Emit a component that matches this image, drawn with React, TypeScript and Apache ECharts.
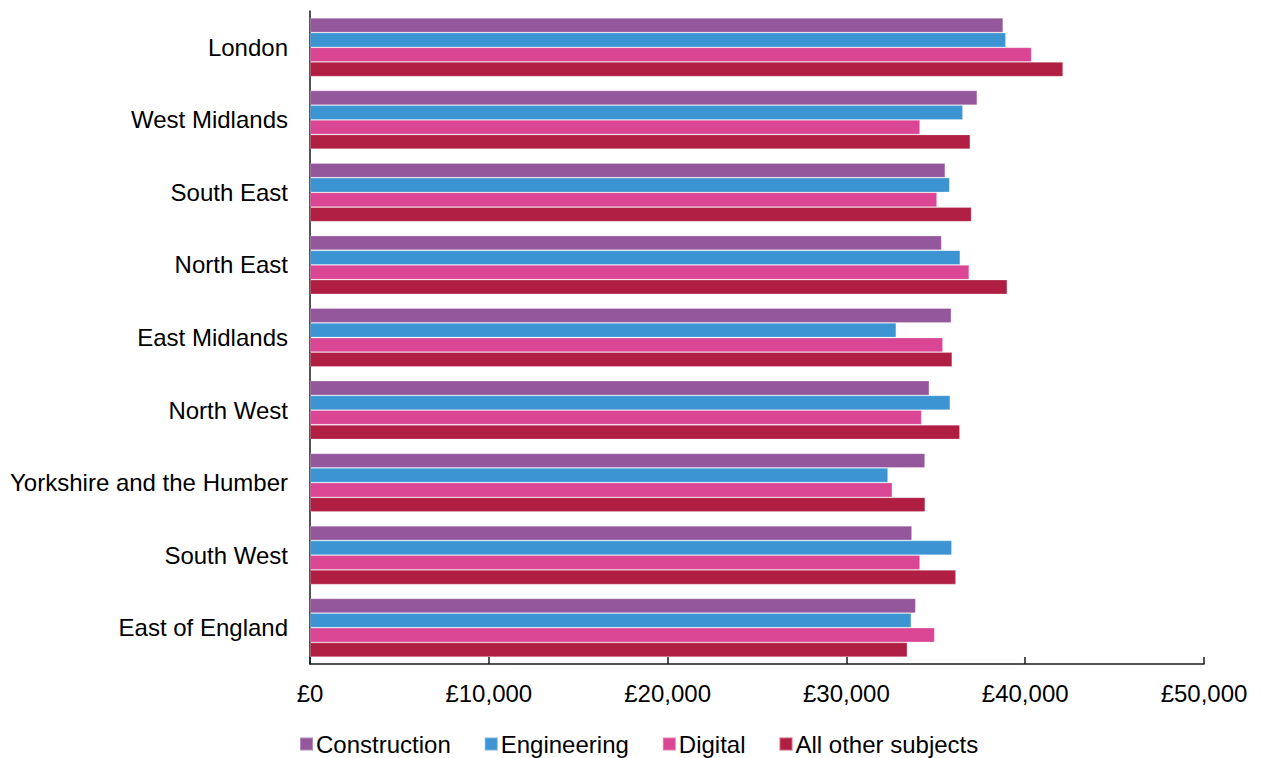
import React, { useEffect, useRef } from "react";
import * as echarts from "echarts";

const regions = [
  "London",
  "West Midlands",
  "South East",
  "North East",
  "East Midlands",
  "North West",
  "Yorkshire and the Humber",
  "South West",
  "East of England",
];

const construction = [38770, 37320, 35530, 35330, 35870, 34640, 34400, 33670, 33880];
const engineering = [38920, 36520, 35780, 36370, 32790, 35810, 32330, 35900, 33630];
const digital = [40360, 34120, 35070, 36870, 35400, 34210, 32570, 34120, 34940];
const allOther = [42120, 36930, 37000, 39000, 35920, 36350, 34410, 36130, 33410];

const seriesNames = ["Construction", "Engineering", "Digital", "All other subjects"];
const seriesColors = ["#95579C", "#3C95D2", "#DA4694", "#B01F43"];
const seriesData = [construction, engineering, digital, allOther];

const FONT = "'Liberation Sans', Arial, sans-serif";
const FS = 24;

export default function App() {
  const ref = useRef<HTMLDivElement>(null);
  useEffect(() => {
    if (!ref.current) return;
    const chart = echarts.init(ref.current, null, { renderer: "svg" });
    chart.setOption({
      animation: false,
      backgroundColor: "#ffffff",
      textStyle: { fontFamily: FONT },
      grid: { left: 310, right: 57, top: 11, bottom: 94, containLabel: false },
      legend: {
        left: 299,
        top: 732,
        padding: 0,
        itemWidth: 13,
        itemHeight: 13,
        itemGap: 33,
        icon: "rect",
        textStyle: { fontSize: FS, color: "#000", fontFamily: FONT, padding: [0, 0, 0, -2] },
        data: seriesNames,
      },
      xAxis: {
        type: "value",
        min: 0,
        max: 50000,
        interval: 10000,
        axisLine: { show: true, lineStyle: { color: "#1a1a1a", width: 1.5 } },
        axisTick: { show: true, inside: true, length: 7, lineStyle: { color: "#1a1a1a", width: 1.5 } },
        splitLine: { show: false },
        axisLabel: {
          fontSize: FS,
          color: "#000",
          fontFamily: FONT,
          margin: 17,
          formatter: (v: number) => "£" + v.toLocaleString("en-GB"),
        },
      },
      yAxis: {
        type: "category",
        data: regions,
        inverse: true,
        axisLine: { show: true, lineStyle: { color: "#1a1a1a", width: 1.5 } },
        axisTick: { show: false },
        axisLabel: { fontSize: FS, color: "#000", fontFamily: FONT, margin: 22 },
      },
      series: seriesNames.map((name, i) => ({
        name,
        type: "bar",
        data: seriesData[i],
        barGap: "0%",
        barCategoryGap: "19%",
        itemStyle: {
          color: seriesColors[i],
          borderColor: "rgba(255,255,255,0.3)",
          borderWidth: 0.8,
        },
      })),
    });
    return () => chart.dispose();
  }, []);
  return (
    <div
      ref={ref}
      style={{ position: "fixed", left: 0, top: 0, width: 1261, height: 758 }}
    />
  );
}
